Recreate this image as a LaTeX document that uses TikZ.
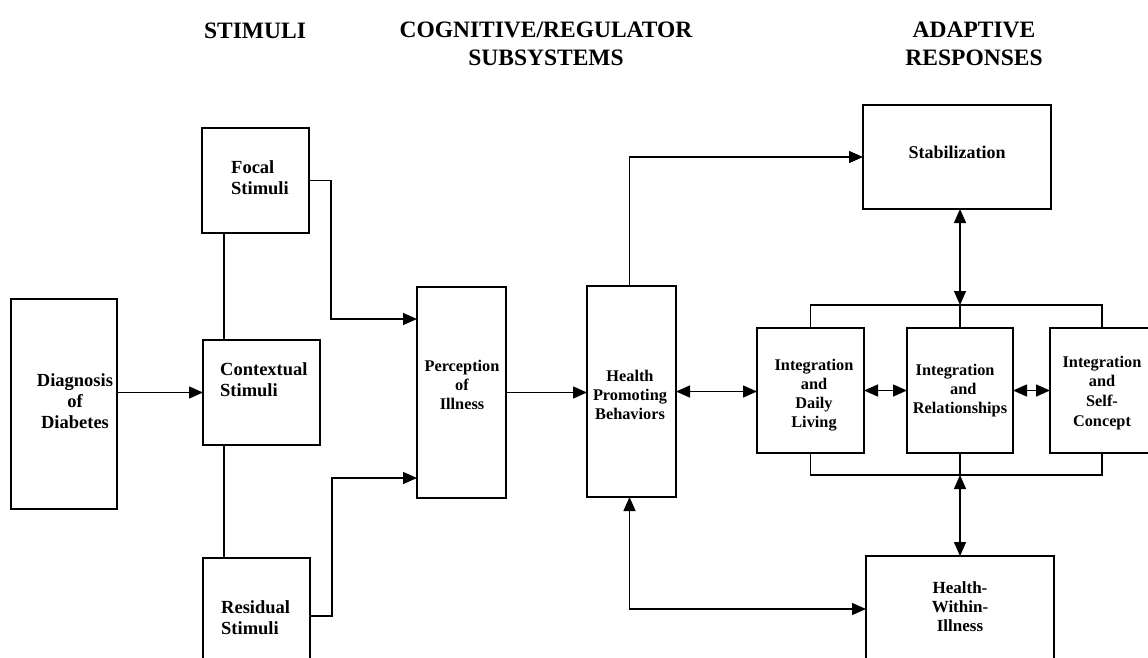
\documentclass[tikz,border=0pt]{standalone}
\usepackage{fontspec}
\setmainfont{Liberation Serif}
\usetikzlibrary{arrows.meta}
\begin{document}
\begin{tikzpicture}[x=1pt,y=-1pt,
  box/.style={draw, line width=1.8pt, inner sep=0pt, outer sep=0pt},
  lbl/.style={inner sep=0pt, font=\fontsize{16.3}{19}\selectfont\bfseries, align=center},
  biglbl/.style={inner sep=0pt, font=\fontsize{18.5}{21}\selectfont\bfseries},
  hdr/.style={inner sep=0pt, font=\fontsize{23.5}{28}\selectfont\bfseries, align=center},
  con/.style={line width=1.4pt},
  arr/.style={con, -{Triangle[length=14pt,width=12pt]}},
  dbl/.style={con, {Triangle[length=14pt,width=12pt]}-{Triangle[length=14pt,width=12pt]}},
]
\useasboundingbox (0,0) rectangle (1148,657);

% headers
\node[hdr, anchor=base] (hS) at (255,38) {STIMULI};
\node[hdr] (hC) at (546,44) {COGNITIVE/REGULATOR\\SUBSYSTEMS};
\node[hdr] (hA) at (974,44) {ADAPTIVE\\RESPONSES};

% boxes
\node[box, minimum width=106pt, minimum height=210pt] (diag) at (64,404) {};
\node[box, minimum width=107pt, minimum height=105pt] (focal) at (255.5,180.5) {};
\node[box, minimum width=117pt, minimum height=105pt] (ctx) at (261.5,392.5) {};
\node[box, minimum width=107pt, minimum height=116pt] (res) at (256.5,616) {};
\node[box, minimum width=89pt, minimum height=211pt] (perc) at (461.5,392.5) {};
\node[box, minimum width=89pt, minimum height=211pt] (hpb) at (631.5,391.5) {};
\node[box, minimum width=188pt, minimum height=104pt] (stab) at (957,157) {};
\node[box, minimum width=107pt, minimum height=125pt] (idl) at (810.5,390.5) {};
\node[box, minimum width=106pt, minimum height=125pt] (ir) at (960,390.5) {};
\node[box, minimum width=104pt, minimum height=125pt] (isc) at (1102,390.5) {};
\node[box, minimum width=188pt, minimum height=106pt] (hwi) at (960,609) {};

% texts
\node[biglbl, align=center] (t-diag) at (75,401.2) {Diagnosis\\of\\Diabetes};
\node[biglbl, align=left, anchor=west] (t-focal) at (231,177.7) {Focal\\Stimuli};
\node[biglbl, align=left, anchor=west] (t-ctx) at (220,379.3) {Contextual\\Stimuli};
\node[biglbl, align=left, anchor=west] (t-res) at (221,617.7) {Residual\\Stimuli};
\node[lbl] (t-perc) at (462,385) {Perception\\of\\Illness};
\node[lbl] (t-hpb) at (630,394.5) {Health\\Promoting\\Behaviors};
\node[biglbl, font=\fontsize{18}{21}\selectfont\bfseries, anchor=base] (t-stab) at (957,158) {Stabilization};
\node[lbl] (t-idl) at (814,394.7) {Integration\\and\\Daily\\Living};
\node[lbl] (t-ir) at (960,390.2) {Integration\hspace*{0.6em}\\\hspace*{0.4em}and\\Relationships};
\node[lbl, font=\fontsize{16.3}{19.7}\selectfont\bfseries] (t-isc) at (1102,392.7) {Integration\\and\\Self-\\Concept};
\node[lbl, font=\fontsize{17}{19}\selectfont\bfseries] (t-hwi) at (960,606.2) {Health-\\Within-\\Illness};

% coordinates for the buses
\coordinate (busT) at (960,305);
\coordinate (busB) at (960,475);

% connectors
\draw[arr] (diag.east |- ctx.west) -- (ctx.west);
\draw[con] ([xshift=22pt]focal.south west) -- ([xshift=22pt]focal.south west |- ctx.north);
\draw[con] ([xshift=21pt]ctx.south west) -- ([xshift=21pt]ctx.south west |- res.north);
\draw[arr] (focal.east) -- ++(22,0) |- ([yshift=-32pt]perc.north west);
\draw[arr] (res.east) -- ++(22,0) |- ([yshift=20pt]perc.south west);
\draw[arr] (perc.east) -- (perc.east -| hpb.west);
\draw[dbl] (hpb.east) -- (hpb.east -| idl.west);
\draw[arr] ([xshift=-2pt]hpb.north) |- (stab.west);
\draw[dbl] ([xshift=-2pt]hpb.south) |- (hwi.west);
\draw[con] (idl.north) -- (idl.north |- busT) -- (isc.north |- busT) -- (isc.north);
\draw[con] (ir.north) -- (busT);
\draw[con] (idl.south) -- (idl.south |- busB) -- (isc.south |- busB) -- (isc.south);
\draw[con] (ir.south) -- (busB);
\draw[dbl] (stab.south -| busT) -- (busT);
\draw[dbl] (busB) -- (hwi.north -| busB);
\draw[dbl] (idl.east) -- (ir.west);
\draw[dbl] (ir.east) -- (isc.west);
\end{tikzpicture}
\end{document}
